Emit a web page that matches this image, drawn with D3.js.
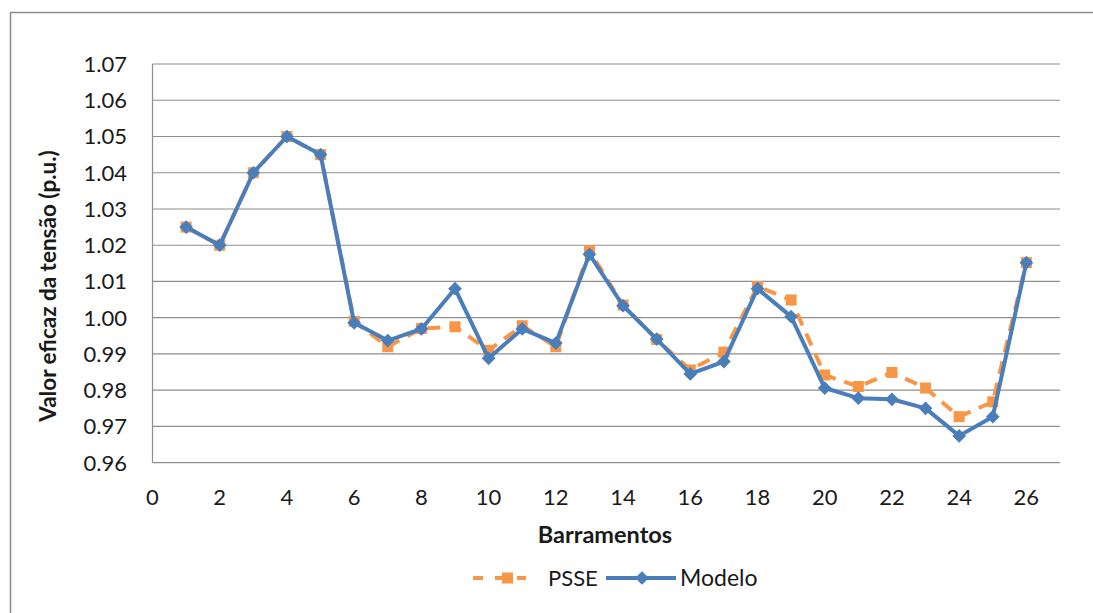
<!DOCTYPE html>
<html>
<head>
<meta charset="utf-8">
<script src="https://cdn.jsdelivr.net/npm/d3@7/dist/d3.min.js"></script>
<style>
  body { margin: 0; background: #fff; }
  text { font-family: Lato, "Liberation Sans", Arial, sans-serif; fill: #1a1a1a; }
</style>
</head>
<body>
<script>
// chart data
var buses = [1, 2, 3, 4, 5, 6, 7, 8, 9, 10, 11, 12, 13, 14, 15, 16, 17, 18, 19, 20, 21, 22, 23, 24, 25, 26];
var psse = [1.025, 1.020, 1.040, 1.050, 1.045, 0.999, 0.992, 0.997, 0.9975, 0.991, 0.9978, 0.992, 1.0185, 1.0035,
            0.994, 0.9856, 0.9905, 1.0086, 1.0049, 0.9842, 0.981, 0.9849, 0.9806, 0.9727, 0.9768, 1.0152];
var modelo = [1.025, 1.020, 1.040, 1.050, 1.045, 0.9986, 0.9937, 0.9969, 1.008, 0.9888, 0.9969, 0.993, 1.0175, 1.0033,
              0.9941, 0.9845, 0.9879, 1.008, 1.0003, 0.9806, 0.9778, 0.9775, 0.975, 0.9674, 0.9727, 1.0152];
var xTicks = [0, 2, 4, 6, 8, 10, 12, 14, 16, 18, 20, 22, 24, 26];
var yTicks = [0.96, 0.97, 0.98, 0.99, 1.00, 1.01, 1.02, 1.03, 1.04, 1.05, 1.06, 1.07];

var width = 1093;
var height = 613;
var margin = {left: 152.5, top: 64, right: 1060, bottom: 462.7};

var svg = d3.select('body').append('svg').attr('width', width).attr('height', height);

// outer frame of the chart object
svg.append('rect')
    .attr('x', 10.5).attr('y', 12.5)
    .attr('width', 1100).attr('height', 700)
    .attr('fill', 'none').attr('stroke', '#8c8c8c').attr('stroke-width', 1.5);

var x = d3.scaleLinear().domain([0, 27]).range([margin.left, margin.right]);
var y = d3.scaleLinear().domain([0.96, 1.07]).range([margin.bottom, margin.top]);

// horizontal gridlines
svg.append('g').selectAll('line')
    .data(yTicks)
    .enter()
    .append('line')
    .attr('x1', margin.left).attr('x2', margin.right)
    .attr('y1', function(d){ return y(d); })
    .attr('y2', function(d){ return y(d); })
    .attr('stroke', '#8e8e8e').attr('stroke-width', 1.2);

// left axis line
svg.append('line')
    .attr('x1', margin.left).attr('x2', margin.left)
    .attr('y1', margin.top).attr('y2', margin.bottom)
    .attr('stroke', '#8e8e8e').attr('stroke-width', 1.2);

// y tick labels
svg.append('g').selectAll('text')
    .data(yTicks)
    .enter()
    .append('text')
    .attr('x', 127)
    .attr('y', function(d){ return y(d); })
    .attr('dy', '0.36em')
    .attr('text-anchor', 'end')
    .style('font-size', '22px')
    .text(function(d){ return d3.format('.2f')(d); });

// x tick labels
svg.append('g').selectAll('text')
    .data(xTicks)
    .enter()
    .append('text')
    .attr('x', function(d){ return x(d); })
    .attr('y', 497)
    .attr('dy', '0.36em')
    .attr('text-anchor', 'middle')
    .style('font-size', '22px')
    .text(function(d){ return d; });

// axis titles
svg.append('text')
    .attr('x', 605).attr('y', 535)
    .attr('dy', '0.36em')
    .attr('text-anchor', 'middle')
    .style('font-size', '23.5px').style('font-weight', 'bold')
    .text('Barramentos');

svg.append('text')
    .attr('transform', 'translate(48,286) rotate(-90)')
    .attr('dy', '0.36em')
    .attr('text-anchor', 'middle')
    .style('font-size', '22.5px').style('font-weight', 'bold')
    .text('Valor eficaz da tensão (p.u.)');

var orange = '#f79646';
var blue = '#4a7ebb';

var line = d3.line()
    .x(function(d){ return x(d[0]); })
    .y(function(d){ return y(d[1]); });

var psseData = buses.map(function(b, i){ return [b, psse[i]]; });
var modeloData = buses.map(function(b, i){ return [b, modelo[i]]; });

// PSSE dashed series with squares
svg.append('path')
    .datum(psseData)
    .attr('d', line)
    .attr('fill', 'none')
    .attr('stroke', orange)
    .attr('stroke-width', 4)
    .attr('stroke-dasharray', '13,9');

svg.append('g').selectAll('rect')
    .data(psseData)
    .enter()
    .append('rect')
    .attr('x', function(d){ return x(d[0]) - 5.5; })
    .attr('y', function(d){ return y(d[1]) - 5.5; })
    .attr('width', 11).attr('height', 11)
    .attr('fill', orange);

// Modelo solid series with diamonds
svg.append('path')
    .datum(modeloData)
    .attr('d', line)
    .attr('fill', 'none')
    .attr('stroke', blue)
    .attr('stroke-width', 4)
    .attr('stroke-linejoin', 'round');

var diamond = d3.symbol().type(d3.symbolDiamond2).size(120);
svg.append('g').selectAll('path')
    .data(modeloData)
    .enter()
    .append('path')
    .attr('d', diamond)
    .attr('transform', function(d){ return 'translate(' + x(d[0]) + ',' + y(d[1]) + ')'; })
    .attr('fill', blue);

// legend
var lg = svg.append('g');
lg.append('line')
    .attr('x1', 473).attr('x2', 526).attr('y1', 578).attr('y2', 578)
    .attr('stroke', orange).attr('stroke-width', 4).attr('stroke-dasharray', '10,12');
lg.append('rect')
    .attr('x', 502).attr('y', 572.5).attr('width', 11).attr('height', 11).attr('fill', orange);
lg.append('text')
    .attr('x', 548).attr('y', 578).attr('dy', '0.36em')
    .style('font-size', '22px').text('PSSE');
lg.append('line')
    .attr('x1', 606).attr('x2', 676).attr('y1', 578).attr('y2', 578)
    .attr('stroke', blue).attr('stroke-width', 4);
lg.append('path')
    .attr('d', diamond)
    .attr('transform', 'translate(642,578)')
    .attr('fill', blue);
lg.append('text')
    .attr('x', 680).attr('y', 578).attr('dy', '0.36em')
    .style('font-size', '23px').text('Modelo');
</script>
</body>
</html>
